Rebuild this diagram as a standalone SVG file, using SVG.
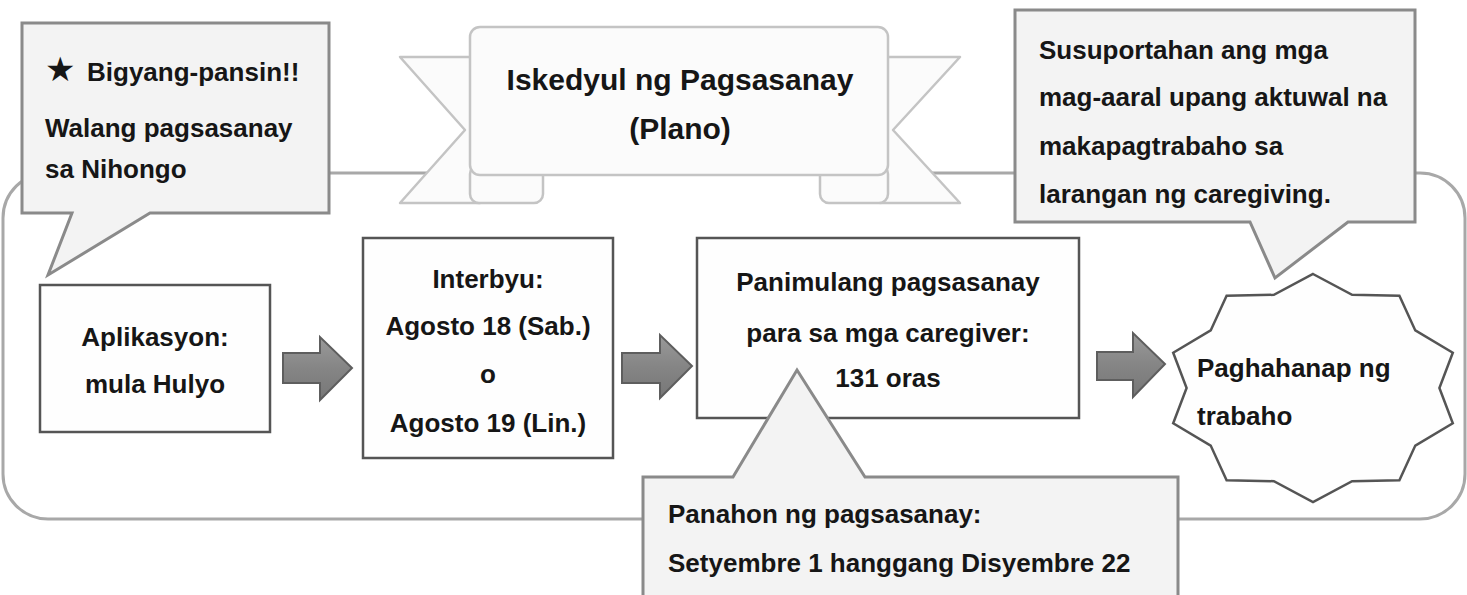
<svg xmlns="http://www.w3.org/2000/svg" width="1467" height="595" viewBox="0 0 1467 595">
<style>
text{font-family:"Liberation Sans",Arial,sans-serif;font-weight:bold;font-size:26px;fill:#161616}
.c{text-anchor:middle}
.title{font-size:30px}
.box{fill:#fefefe;stroke:#555;stroke-width:2.5}
.callout{fill:#f3f3f3;stroke:#8a8a8a;stroke-width:3;stroke-linejoin:miter}
.frame{fill:none;stroke:#a8a8a8;stroke-width:3}
.ribbon{fill:#fbfbfb;stroke:#c4c4c4;stroke-width:2.5;stroke-linejoin:round}
.arrow{fill:url(#ag);stroke:#5e5e5e;stroke-width:2;stroke-linejoin:miter}
.star{font-family:"DejaVu Sans",sans-serif;font-size:34px}
</style>
<defs>
<linearGradient id="ag" x1="0" y1="0" x2="0" y2="1">
<stop offset="0" stop-color="#9a9a9a"/>
<stop offset="0.5" stop-color="#858585"/>
<stop offset="1" stop-color="#777"/>
</linearGradient>
</defs>
<rect width="1467" height="595" fill="#fff"/>
<g id="frame">
<rect class="frame" x="3" y="173" width="1462" height="346" rx="45" ry="45"/>
</g>
<g id="title-banner">
<path class="ribbon" d="M400,57 H480 V203 H400 L465,130 Z"/>
<path class="ribbon" d="M888,57 H960 L893,130 L960,203 H880 V57 Z"/>
<rect class="ribbon" x="470" y="165" width="73" height="38" rx="9"/>
<rect class="ribbon" x="820" y="165" width="68" height="38" rx="9"/>
<rect class="ribbon" x="470" y="27" width="418" height="148" rx="10"/>
<text class="c title" x="680" y="90">Iskedyul ng Pagsasanay</text>
<text class="c title" x="680" y="139">(Plano)</text>
</g>
<g id="connectors">
<path class="arrow" d="M283,353 H320 V337 L352,368 L320,400 V383 H283 Z"/>
<path class="arrow" d="M622,353 H660 V335 L692,366 L660,398 V383 H622 Z"/>
<path class="arrow" d="M1097,352 H1133 V333 L1165,364 L1133,397 V380 H1097 Z"/>
</g>
<g id="node-aplikasyon">
<rect class="box" x="40" y="285" width="230" height="147"/>
<text class="c" x="155" y="346">Aplikasyon:</text>
<text class="c" x="155" y="393">mula Hulyo</text>
</g>
<g id="node-interbyu">
<rect class="box" x="363" y="238" width="250" height="220"/>
<text class="c" x="488" y="288">Interbyu:</text>
<text class="c" x="488" y="335">Agosto 18 (Sab.)</text>
<text class="c" x="488" y="383">o</text>
<text class="c" x="488" y="432">Agosto 19 (Lin.)</text>
</g>
<g id="node-panimulang">
<rect class="box" x="697" y="238" width="382" height="180"/>
<text class="c" x="888" y="291">Panimulang pagsasanay</text>
<text class="c" x="888" y="342">para sa mga caregiver:</text>
<text class="c" x="888" y="387">131 oras</text>
</g>
<g id="node-paghahanap">
<polygon class="box" points="1313,274 1352.1,294.8 1399.4,295.8 1415.3,330.4 1452.8,352.8 1439.4,388 1452.8,423.2 1415.3,445.6 1399.4,480.2 1352.1,481.2 1313,502 1273.9,481.2 1226.6,480.2 1210.7,445.6 1173.2,423.2 1186.6,388 1173.2,352.8 1210.7,330.4 1226.6,295.8 1273.9,294.8"/>
<text x="1197" y="377">Paghahanap ng</text>
<text x="1197" y="425">trabaho</text>
</g>
<g id="callout-pansin">
<path class="callout" d="M22,23 H329 V213 H150 L48,275 L72,213 H22 Z"/>
<text x="45" y="81"><tspan class="star">★</tspan><tspan x="87">Bigyang-pansin!!</tspan></text>
<text x="45" y="137">Walang pagsasanay</text>
<text x="45" y="178">sa Nihongo</text>
</g>
<g id="callout-suporta">
<path class="callout" d="M1015,10 H1415 V222 H1348 L1275,278 L1250,222 H1015 Z"/>
<text x="1039" y="59">Susuportahan ang mga</text>
<text x="1039" y="106">mag-aaral upang aktuwal na</text>
<text x="1039" y="155">makapagtrabaho sa</text>
<text x="1039" y="203">larangan ng caregiving.</text>
</g>
<g id="callout-panahon">
<path class="callout" d="M643,477 H733 L797,370 L865,477 H1178 V600 H643 Z"/>
<text x="668" y="523">Panahon ng pagsasanay:</text>
<text x="668" y="572">Setyembre 1 hanggang Disyembre 22</text>
</g>
</svg>
